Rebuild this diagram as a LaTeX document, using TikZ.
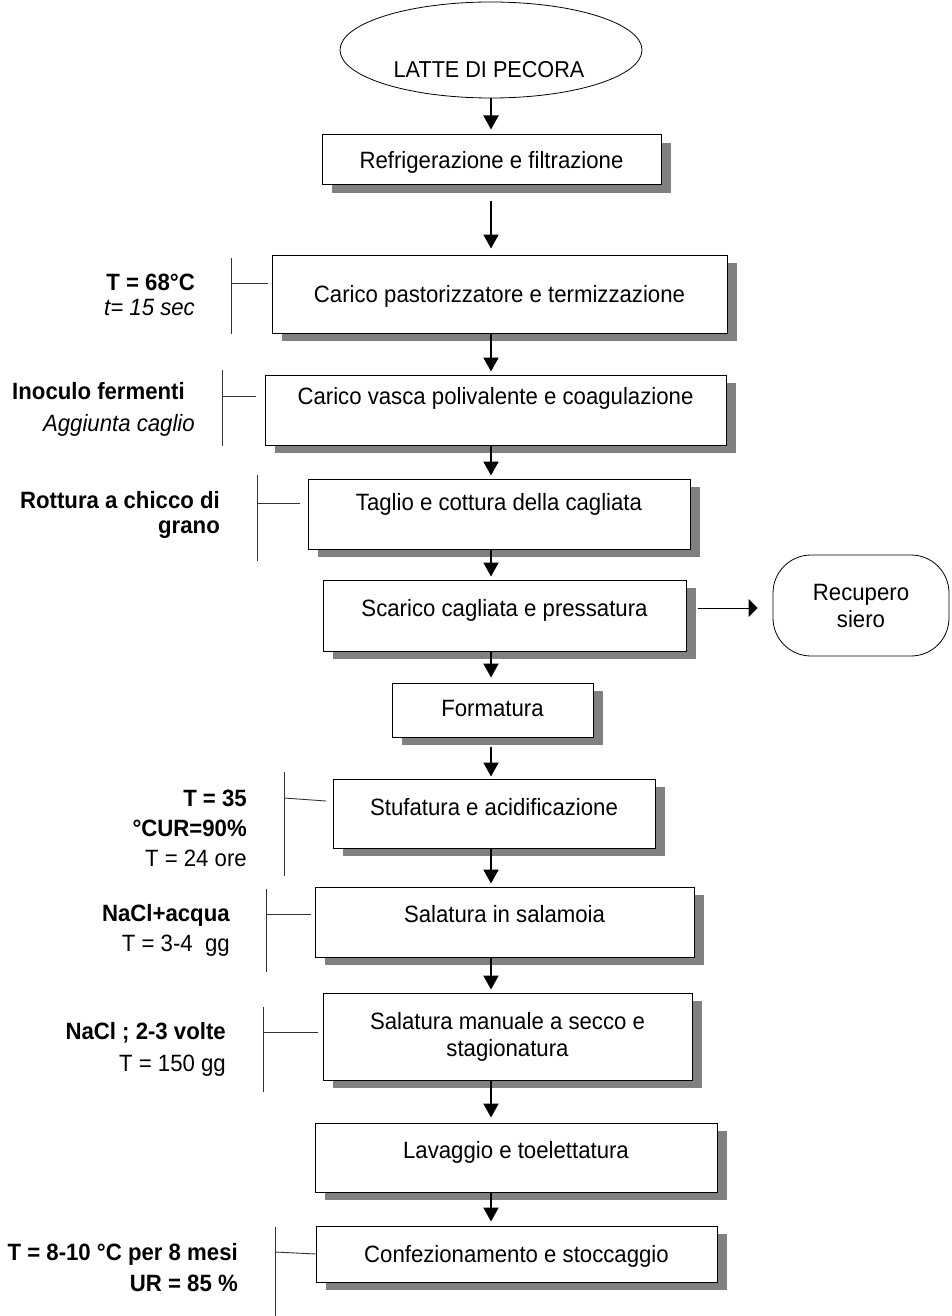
\documentclass[tikz,border=0pt]{standalone}
\usepackage{fontspec}
\setmainfont{Liberation Sans}[FakeStretch=0.94]
\usetikzlibrary{arrows.meta, shapes, shadows, positioning}
\definecolor{shadowgray}{HTML}{808080}
\definecolor{tickgray}{HTML}{333333}

\begin{document}
\begin{tikzpicture}[x=1pt, y=-1pt,
    stepbox/.style={draw=black, line width=1pt, fill=white, inner sep=0pt,
      font=\fontsize{23.6}{27}\selectfont,
      drop shadow={shadow xshift=10pt, shadow yshift=-8pt, fill=shadowgray, opacity=1}},
    lift/.style={text height=16pt, text depth=#1},
    note/.style={anchor=east, inner sep=0pt, align=right, font=\fontsize{23.6}{30}\selectfont},
    arr/.style={-{Triangle[length=14pt, width=15pt]}, line width=2pt, shorten >=3pt},
    tick/.style={line width=0.9pt, draw=tickgray}]

  \useasboundingbox (0,0) rectangle (951,1316);

  % main column
  \node[ellipse, draw, line width=0.8pt, minimum width=302pt, minimum height=96pt] (latte) at (491,50) {};
  \node[font=\fontsize{23}{27}\selectfont] (lattetxt) at (489,70) {LATTE DI PECORA};
  \node[stepbox, minimum width=339pt, minimum height=50pt, lift=0pt] (b1) at (491.5,160) {Refrigerazione e filtrazione};
  \node[stepbox, minimum width=455pt, minimum height=78pt, lift=0pt] (b2) at (499.5,294) {Carico pastorizzatore e termizzazione};
  \node[stepbox, minimum width=461pt, minimum height=70pt, lift=28pt] (b3) at (495.5,410) {Carico vasca polivalente e coagulazione};
  \node[stepbox, minimum width=382pt, minimum height=70pt, lift=24pt] (b4) at (499,514) {Taglio e cottura della cagliata};
  \node[stepbox, minimum width=363pt, minimum height=71pt, lift=14pt] (b5) at (504.5,615.5) {Scarico cagliata e pressatura};
  \node[stepbox, minimum width=201pt, minimum height=54pt, lift=4pt] (b6) at (492.5,710) {Formatura};
  \node[stepbox, minimum width=322pt, minimum height=69pt, lift=12pt] (b7) at (494,813.5) {Stufatura e acidificazione};
  \node[stepbox, minimum width=379pt, minimum height=70pt, lift=16pt] (b8) at (504.5,922) {Salatura in salamoia};
  \node[stepbox, minimum width=369pt, minimum height=87pt, align=center] (b9) at (507.5,1036.5) {Salatura manuale a secco e\\stagionatura};
  \node[stepbox, minimum width=402pt, minimum height=69pt, lift=14pt] (b10) at (516,1157.5) {Lavaggio e toelettatura};
  \node[stepbox, minimum width=401pt, minimum height=56pt, lift=0pt] (b11) at (516.5,1254) {Confezionamento e stoccaggio};

  % whey recovery
  \node[draw, line width=0.8pt, rounded corners=38pt, minimum width=176pt, minimum height=101pt,
        align=center, font=\fontsize{23.6}{27}\selectfont] (siero) at (861,605.5) {Recupero\\siero};

  % arrows
  \draw[arr, shorten >=5pt] (latte.south) -- (b1.north -| latte.south);
  \draw[arr, shorten <=15pt, shorten >=6pt] (b1.south -| latte.south) -- (b2.north -| latte.south);
  \draw[arr] (b2.south -| latte.south) -- (b3.north -| latte.south);
  \draw[arr] (b3.south -| latte.south) -- (b4.north -| latte.south);
  \draw[arr] (b4.south -| latte.south) -- (b5.north -| latte.south);
  \draw[arr, shorten >=5pt] (b5.south -| latte.south) -- (b6.north -| latte.south);
  \draw[arr, shorten <=9pt, shorten >=2pt] (b6.south -| latte.south) -- (b7.north -| latte.south);
  \draw[arr] (b7.south -| latte.south) -- (b8.north -| latte.south);
  \draw[arr] (b8.south -| latte.south) -- (b9.north -| latte.south);
  \draw[arr, shorten >=5pt] (b9.south -| latte.south) -- (b10.north -| latte.south);
  \draw[arr, shorten >=4pt] (b10.south -| latte.south) -- (b11.north -| latte.south);
  \coordinate (siero out) at ([yshift=7.5pt]b5.east);
  \draw[-{Triangle[length=9pt, width=18pt]}, line width=1pt, shorten <=11pt, shorten >=15pt]
    (siero out) -- (siero out -| siero.west);

  % side notes
  \node[note, font=\fontsize{23.6}{25}\selectfont] (n2) at (195,294.5) {\textbf{T = 68°C}\\\textit{t= 15 sec}};
  \node[note, font=\fontsize{23.6}{32}\selectfont] (n3) at (195,409) {\textbf{Inoculo fermenti}\hspace*{10pt}\\\textit{Aggiunta caglio}};
  \node[note, font=\fontsize{23.6}{25}\selectfont] (n4) at (220,514.5) {\textbf{Rottura a chicco di}\\\textbf{grano}};
  \node[note] (n7) at (247,828) {\textbf{T = 35}\\\textbf{°CUR=90\%}\\T = 24 ore};
  \node[note] (n8) at (230,930) {\textbf{NaCl+acqua}\\T = 3-4~ gg};
  \node[note, font=\fontsize{23.6}{32}\selectfont] (n9) at (226,1049) {\textbf{NaCl ; 2-3 volte}\\T = 150 gg};
  \node[note, font=\fontsize{23.6}{31}\selectfont] (n11) at (238,1267.5) {\textbf{T = 8-10 °C per 8 mesi}\\\textbf{UR = 85 \%}};

  % brackets
  \draw[tick] (231,258) -- (231,334);
  \draw[tick] (231,283) -- (268,283);
  \draw[tick] (222,370) -- (222,446);
  \draw[tick] (222,396) -- (256,396);
  \draw[tick] (257,475) -- (257,561);
  \draw[tick] (257,503) -- (300,503);
  \draw[tick] (284,772) -- (284,876);
  \draw[tick] (284,798) -- (326,801);
  \draw[tick] (266,889) -- (266,972);
  \draw[tick] (266,914) -- (311,914);
  \draw[tick] (263,1007) -- (263,1092);
  \draw[tick] (263,1032) -- (318,1032);
  \draw[tick] (275,1227) -- (275,1316);
  \draw[tick] (275,1252) -- (316,1254);
\end{tikzpicture}
\end{document}
